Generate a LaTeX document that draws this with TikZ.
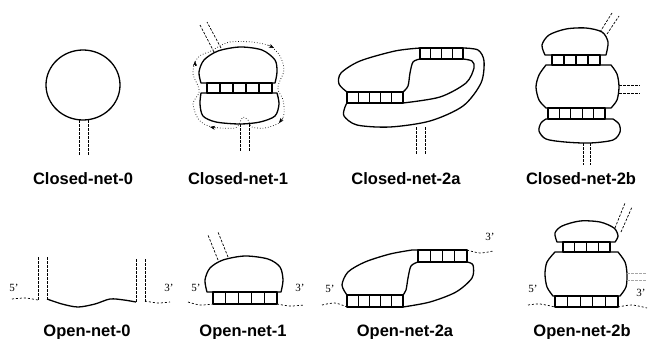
\documentclass[tikz,border=0pt]{standalone}
\usepackage{fontspec}
\setmainfont{Liberation Serif}
\setsansfont{Liberation Sans}
\usetikzlibrary{arrows.meta}

% paired region: outline plus base-pair rungs
\newcommand{\rungs}[5]{%
  \draw[lobe] (#1,#3) rectangle (#2,#4);
  \pgfmathsetmacro{\cw}{(#2-#1)/#5}
  \foreach \k in {1,...,#5} \draw[lobe] ({#1+\k*\cw},#3) -- ({#1+\k*\cw},#4);
}

\tikzset{
  lobe/.style={line width=1.3pt, line join=round},
  stem/.style={line width=0.7pt, dash pattern=on 2.5pt off 1.5pt},
  tail/.style={line width=0.7pt, dash pattern=on 2pt off 2pt},
  trace/.style={line width=0.7pt, dotted},
  tip/.style={line width=0.4pt, -{Stealth[length=5pt,width=4pt]}},
  lbl/.style={font=\sffamily\bfseries\fontsize{16.5}{18}\selectfont, anchor=base},
  prime/.style={font=\fontsize{11}{12}\selectfont}
}

\begin{document}
\begin{tikzpicture}[x=1pt,y=-1pt]
\useasboundingbox (0,0) rectangle (648,338);

% closed net 0
\draw[lobe] (83,85) ellipse (37 and 35);
\draw[stem] (79,120) -- (79,155) (88,120) -- (88,155);

% closed net 1
\draw[lobe] plot[smooth] coordinates {(201,83) (199,72) (204,60) (218,51) (240,47) (262,50) (275,60) (277,72) (275,83)} -- cycle;
\rungs{207}{272}{83}{93}{5}
\draw[lobe] plot[smooth] coordinates {(277,93) (279,104) (275,116) (260,122) (240,124) (216,122) (203,116) (200,104) (201,93)} -- cycle;
\draw[stem] (214,52) -- (200,25) (221,48) -- (207,22);
\draw[stem] (240,124) -- (240,152) (249,124) -- (249,152);
\draw[trace] plot[smooth cycle] coordinates {(218,47) (230,42) (252,42) (270,46) (280,56) (284,70) (279,83) (278,90) (283,100) (284,114) (279,123) (265,128) (252,127) (248,120) (243,117) (240,122) (235,128) (212,127) (199,120) (193,104) (199,93) (198,86) (193,74) (195,62) (201,55) (209,52)};
\draw[tip] (195,66) -- (195,61);
\draw[tip] (268,45) -- (274,48);
\draw[tip] (283,118) -- (279,123);
\draw[tip] (216,128) -- (210,127);

% closed net 2a
\rungs{347}{403}{92}{103}{5}
\rungs{420}{463}{48}{59}{4}
\draw[lobe] plot[smooth] coordinates {(347,92) (339,84) (341,73) (360,61) (395,51) (420,48)} -- (463,48)
  -- plot[smooth] coordinates {(463,48) (478,50) (484,61) (481,83) (463,106) (430,121) (390,127) (357,125) (344,116) (345,107) (347,103)};
\draw[lobe] plot[smooth] coordinates {(420,59) (413,62) (410,73) (408,86) (403,92)};
\draw[lobe] plot[smooth] coordinates {(463,59) (472,61) (474,68) (466,83) (440,97) (403,103)};
\draw[stem] (416,127) -- (416,155) (425,127) -- (425,155);

% closed net 2b
\draw[lobe] plot[smooth] coordinates {(545,55) (542,45) (549,35) (566,29) (586,28) (602,32) (608,42) (606,55)} -- cycle;
\rungs{552}{600}{55}{65}{4}
\draw[lobe] plot[smooth] coordinates {(546,65) (539,75) (536,87) (539,100) (546,108)}
  -- plot[smooth] coordinates {(611,108) (617,100) (619,87) (617,74) (611,65)} -- cycle;
\rungs{548}{605}{108}{119}{5}
\draw[lobe] plot[smooth] coordinates {(613,119) (619,124) (620,132) (613,140) (590,143) (565,142) (546,139) (539,131) (541,123) (546,119)} -- cycle;
\draw[stem] (600,32) -- (612,13) (607,34) -- (619,16);
\draw[stem] (619,85) -- (640,85) (619,93) -- (640,93);
\draw[stem] (583,143) -- (583,165) (590,143) -- (590,165);

% open net 0
\draw[stem] (38,257) -- (38,300) (47,257) -- (47,300);
\draw[stem] (136,259) -- (136,303) (145,259) -- (145,303);
\draw[lobe] plot[smooth] coordinates {(47,299) (62,304) (78,307) (95,304) (110,299) (124,300) (136,302)};
\draw[tail] plot[smooth] coordinates {(12,299) (25,298) (38,300)};
\draw[tail] plot[smooth] coordinates {(145,301) (158,303) (170,302)};
\node[prime] (f0) at (14,288) {5'};
\node[prime] (t0) at (169,288) {3'};

% open net 1
\draw[lobe] plot[smooth] coordinates {(207,292) (205,280) (210,268) (223,260) (245,256) (268,259) (280,267) (283,280) (281,292)} -- cycle;
\rungs{213}{277}{292}{304}{5}
\draw[stem] (218,260) -- (208,235) (228,257) -- (218,232);
\draw[tail] plot[smooth] coordinates {(188,302) (200,305) (213,304)};
\draw[tail] plot[smooth] coordinates {(277,304) (290,306) (304,305)};
\node[prime] (f1) at (196,288) {5'};
\node[prime] (t1) at (300,288) {3'};

% open net 2a
\rungs{347}{403}{295}{307}{5}
\rungs{418}{467}{250}{262}{4}
\draw[lobe] plot[smooth] coordinates {(347,295) (342,285) (348,272) (365,262) (390,254) (412,250)} -- (418,250);
\draw[lobe] plot[smooth] coordinates {(467,262) (473,265) (472,278) (456,292) (430,302) (403,307)};
\draw[lobe] plot[smooth] coordinates {(418,262) (411,266) (408,278) (406,290) (403,295)};
\draw[tail] plot[smooth] coordinates {(322,305) (335,303) (347,307)};
\draw[tail] plot[smooth] coordinates {(467,250) (480,253) (493,251)};
\node[prime] (f2a) at (330,289) {5'};
\node[prime] (t2a) at (490,237) {3'};

% open net 2b
\draw[lobe] plot[smooth] coordinates {(557,242) (555,233) (562,226) (580,221) (600,222) (614,228) (618,236) (615,242)} -- cycle;
\rungs{563}{610}{242}{252}{4}
\draw[lobe] plot[smooth] coordinates {(555,252) (547,262) (545,274) (547,287) (553,296)}
  -- plot[smooth] coordinates {(620,296) (626,287) (627,274) (625,262) (618,252)} -- cycle;
\rungs{555}{618}{296}{307}{5}
\draw[stem] (615,228) -- (625,203) (621,232) -- (632,207);
\draw[stem, gray!70] (627,273) -- (647,273) (627,280) -- (647,280);
\draw[tail] plot[smooth] coordinates {(528,305) (540,304) (555,307)};
\draw[tail] plot[smooth] coordinates {(618,307) (632,305) (647,308)};
\node[prime] (f2b) at (533,289) {5'};
\node[prime] (t2b) at (641,293) {3'};

% captions
\node[lbl] (c0) at (83,184) {Closed-net-0};
\node[lbl] (c1) at (238,184) {Closed-net-1};
\node[lbl] (c2a) at (406,184) {Closed-net-2a};
\node[lbl] (c2b) at (581,184) {Closed-net-2b};
\node[lbl] (o0) at (87,336) {Open-net-0};
\node[lbl] (o1) at (243,336) {Open-net-1};
\node[lbl] (o2a) at (405,336) {Open-net-2a};
\node[lbl] (o2b) at (582,336) {Open-net-2b};
\end{tikzpicture}
\end{document}
